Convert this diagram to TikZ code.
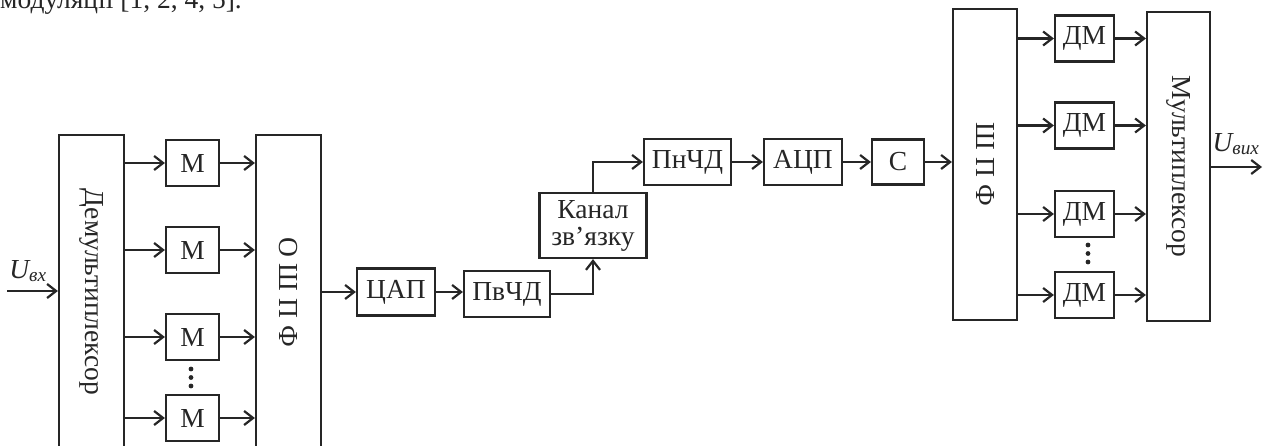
\documentclass[tikz,border=0pt]{standalone}
\usepackage{fontspec}
\setmainfont{Liberation Serif}
\usetikzlibrary{arrows.meta}
\definecolor{ink}{HTML}{262626}
\begin{document}
\begin{tikzpicture}[x=1bp,y=-1bp,
  every node/.style={font=\fontsize{27.5bp}{27bp}\selectfont, text=ink, inner sep=0pt},
  blk/.style={draw=ink, line width=2.2bp, minimum height=46bp},
  wire/.style={draw=ink, line width=2.2bp,
    -{Straight Barb[length=9bp,width=14bp,line width=2.2bp]}},
  vtext/.style={rotate=-90},
  dot/.style={fill=ink}]
\useasboundingbox (0,0) rectangle (1263,446);
\clip (0,0) rectangle (1263,446);

% tail of the preceding text line
\node[anchor=base west] (prevline) at (0,8.5) {модуляції [1, 2, 4, 5].};

% transmitter
\node[blk, minimum width=65bp, minimum height=314bp] (demux) at (91.5,292) {};
\node[vtext] (demuxtxt) at (demux.center) {Демультиплексор};
\node[blk, minimum width=53bp] (m1) at (192.5,163) {М};
\node[blk, minimum width=53bp] (m2) at (192.5,250) {М};
\node[blk, minimum width=53bp] (m3) at (192.5,337) {М};
\node[blk, minimum width=53bp] (m4) at (192.5,418) {М};
\node[blk, minimum width=65bp, minimum height=314bp] (ifft) at (288.5,292) {};
\node[vtext] (iffttxt) at (ifft.center) {О Ш П Ф};
\fill[dot] (191,369) circle (2.4bp) (191,377.5) circle (2.4bp) (191,386) circle (2.4bp);

\coordinate (uin) at (7,291);
\node (uinlbl) at (28,271) {\textit{U\textsubscript{вх}}};

\node[blk, minimum width=78bp, minimum height=47bp] (dac) at (396,292) {ЦАП};
\node[blk, minimum width=86bp] (pvchd) at (507,294) {ПвЧД};
\node[blk, minimum width=107bp, minimum height=65bp, align=center] (chan) at (593,225.5) {Канал\\зв’язку};

% receiver
\node[blk, minimum width=87bp] (pnchd) at (687.5,162) {ПнЧД};
\node[blk, minimum width=78bp] (adc) at (803,162) {АЦП};
\node[blk, minimum width=52bp, minimum height=45bp] (sync) at (898,162) {С};
\node[blk, minimum width=64bp, minimum height=311bp] (fft) at (985,164.5) {};
\node[vtext] (ffttxt) at (fft.center) {Ш П Ф};
\node[blk, minimum width=59bp] (d1) at (1084.5,38.5) {ДМ};
\node[blk, minimum width=59bp] (d2) at (1084.5,125.5) {ДМ};
\node[blk, minimum width=59bp] (d3) at (1084.5,214) {ДМ};
\node[blk, minimum width=59bp] (d4) at (1084.5,295) {ДМ};
\node[blk, minimum width=63bp, minimum height=309bp] (mux) at (1178.5,166.5) {};
\node[vtext] (muxtxt) at (mux.center) {Мультиплексор};
\fill[dot] (1088,245) circle (2.4bp) (1088,253.5) circle (2.4bp) (1088,262) circle (2.4bp);

\coordinate (uout) at (1262,167);
\node (uoutlbl) at (1236,144) {\textit{U\textsubscript{вих}}};

% connections
\draw[wire] (uin) -- (demux.west |- uin);
\foreach \m in {m1,m2,m3,m4}{
  \draw[wire] (demux.east |- \m.west) -- (\m.west);
  \draw[wire] (\m.east) -- (ifft.west |- \m.east);
}
\draw[wire] (ifft.east |- dac.west) -- (dac.west);
\draw[wire] (dac.east) -- (dac.east -| pvchd.west);
\draw[wire] (pvchd.east) -| (chan.south);
\draw[wire] (chan.north) |- (pnchd.west);
\draw[wire] (pnchd.east) -- (adc.west);
\draw[wire] (adc.east) -- (sync.west);
\draw[wire] (sync.east) -- (sync.east -| fft.west);
\foreach \d in {d1,d2,d3,d4}{
  \draw[wire] (fft.east |- \d.west) -- (\d.west);
  \draw[wire] (\d.east) -- (mux.west |- \d.east);
}
\draw[wire] (mux.east |- uout) -- (uout);
\end{tikzpicture}
\end{document}
